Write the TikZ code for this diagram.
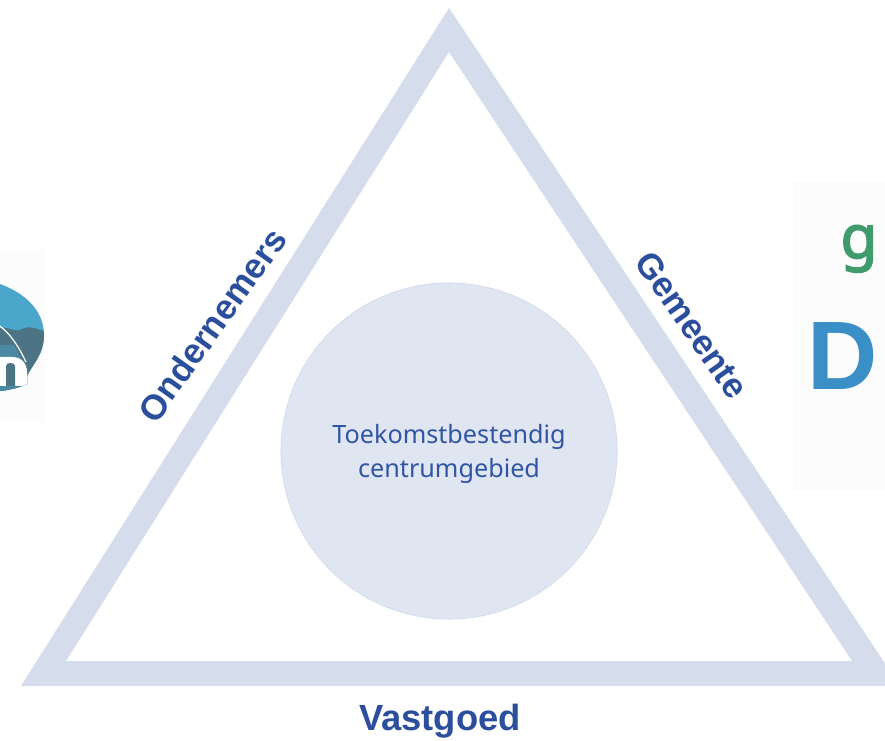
\documentclass[tikz,border=0pt]{standalone}
\usepackage{fontspec}
\setmainfont{Noto Sans}
\newfontfamily\labelfont{Liberation Sans}
\newfontfamily\logogfont[FakeBold=2.5]{Noto Sans}
\definecolor{tri}{HTML}{D5DCEC}
\definecolor{disc}{HTML}{E0E6F1}
\definecolor{discedge}{HTML}{D8E0EE}
\definecolor{ink}{HTML}{2F55A4}
\definecolor{inkdark}{HTML}{2B4F9C}
\definecolor{logogreen}{HTML}{3F9A6C}
\definecolor{logoblue}{HTML}{3A8FC6}
\definecolor{sky}{HTML}{4BA6CC}
\definecolor{trees}{HTML}{4C7485}
\tikzset{
  x=0.75pt,y=-0.75pt,
  sidelabel/.style={font=\labelfont\fontsize{27.3}{27.3}\selectfont\bfseries,text=inkdark,inner sep=0pt},
  slantlabel/.style={font=\labelfont\fontsize{26.3}{26.3}\selectfont\bfseries,text=inkdark,inner sep=0pt},
  centerlabel/.style={font=\fontsize{18.9}{26}\selectfont,text=ink,align=center,inner sep=0pt},
  logoletter/.style={inner sep=0pt,anchor=base}
}
\begin{document}
\begin{tikzpicture}
\useasboundingbox (0,0) rectangle (885,741);
\clip (0,0) rectangle (885,741);
\fill[white] (0,0) rectangle (885,741);
% pale logo backgrounds
\fill[black!1] (0,250) rectangle (44,422);
\fill[black!1] (793,182) rectangle (885,490);
% left logo
\begin{scope}
\clip (-30,278) .. controls (5,280) and (44,300) .. (44,335) .. controls (44,355) and (32,365) .. (27,376)
 -- (27,384) .. controls (18,388) and (8,392) .. (-30,393) -- cycle;
\fill[sky] (-30,270) rectangle (50,400);
\fill[trees] (-5,330) .. controls (5,324) and (12,332) .. (20,330) .. controls (28,325) and (36,328) .. (46,332) -- (46,400) -- (-5,400) -- cycle;
\fill[sky!40!trees] (-5,345) -- (14,345) -- (30,375) -- (30,400) -- (-5,400) -- cycle;
\draw[white,line width=0.9pt] (-5,323) .. controls (8,330) and (18,345) .. (26,362);
\fill[white] (-5,357) -- (12,357) .. controls (22,357) and (27,364) .. (27,372) -- (27,386) -- (-5,386) -- cycle;
\fill[trees] (6,366) .. controls (6,362) and (15,362) .. (15,366) -- (15,386) -- (6,386) -- cycle;
\end{scope}
% right logo letters
\node[logoletter,font=\logogfont\fontsize{45}{45}\selectfont,text=logogreen] (logog) at (859,258) {g};
\node[logoletter,font=\labelfont\fontsize{73}{73}\selectfont\bfseries,text=logoblue] (logod) at (843,389) {D};
% triangle
\fill[tri,even odd rule] (449,8) -- (21,686) -- (900,686) -- cycle
  (449,52) -- (66,661) -- (852,661) -- cycle;
% disc
\node[circle,minimum size=252pt,inner sep=0pt,fill=disc,draw=discedge,line width=0.8pt] (disc) at (449,451) {};
\node[centerlabel] (center) at (449,454) {Toekomstbestendig\\centrumgebied};
% labels
\node[slantlabel,rotate=54.5] (ondernemers) at (212,325) {Ondernemers};
\node[slantlabel,rotate=-55] (gemeente) at (692,325) {Gemeente};
\node[sidelabel] (vastgoed) at (440,721) {Vastgoed};
\end{tikzpicture}
\end{document}
